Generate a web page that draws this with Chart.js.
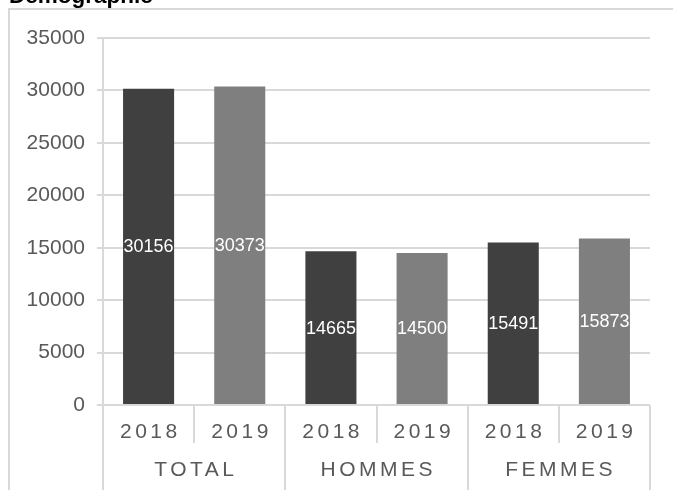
<!DOCTYPE html>
<html>
<head>
<meta charset="utf-8">
<script src="https://cdn.jsdelivr.net/npm/chart.js@4/dist/chart.umd.min.js"></script>
<style>
  html, body { margin: 0; padding: 0; background: #fff; overflow: hidden; }
  canvas { display: block; }
</style>
</head>
<body>
<canvas id="chart" width="673" height="490"></canvas>
<script>
const title = 'Démographie';
const groups = ['TOTAL', 'HOMMES', 'FEMMES'];
const years = ['2018', '2019'];
const values2018 = [30156, 14665, 15491];
const values2019 = [30373, 14500, 15873];
const yTicks = [0, 5000, 10000, 15000, 20000, 25000, 30000, 35000];

const colors = { '2018': '#404040', '2019': '#7f7f7f' };
const lineColor = '#d9d9d9';
const textColor = '#595959';
const fontFamily = '"Liberation Sans", Arial, sans-serif';

// one bar per (group, year) pair
const labels = [];
const values = [];
const barColors = [];
groups.forEach((g, i) => {
    labels.push(years[0]); values.push(values2018[i]); barColors.push(colors[years[0]]);
    labels.push(years[1]); values.push(values2019[i]); barColors.push(colors[years[1]]);
});

function spacedText(ctx, text, x, y, spacing) {
    ctx.letterSpacing = spacing + 'px';
    ctx.fillText(text, x + spacing / 2, y);
    ctx.letterSpacing = '0px';
}

const decorations = {
    id: 'decorations',
    beforeDraw(chart) {
        const ctx = chart.ctx;
        ctx.save();
        // outer frame
        ctx.strokeStyle = lineColor;
        ctx.lineWidth = 2;
        ctx.strokeRect(9, 9, 700, 520);
        // title, cut at top
        ctx.fillStyle = '#000';
        ctx.font = 'bold 22.5px ' + fontFamily;
        ctx.textBaseline = 'alphabetic';
        ctx.textAlign = 'left';
        ctx.fillText(title, 9, 3);
        ctx.restore();
    },
    afterDraw(chart) {
        const ctx = chart.ctx;
        const x = chart.scales.x;
        const area = chart.chartArea;
        const n = labels.length;
        const step = (x.right - x.left) / n;
        ctx.save();
        ctx.strokeStyle = lineColor;
        ctx.lineWidth = 2;
        for (let i = 0; i <= n; i++) {
            const px = Math.round(x.left + i * step);
            const bottom = i % 2 === 0 ? 490 : area.bottom + 38;
            ctx.beginPath();
            ctx.moveTo(px, area.bottom);
            ctx.lineTo(px, bottom);
            ctx.stroke();
        }
        ctx.fillStyle = textColor;
        ctx.font = '21px ' + fontFamily;
        ctx.textAlign = 'center';
        ctx.textBaseline = 'middle';
        labels.forEach((lab, i) => {
            spacedText(ctx, lab, x.getPixelForValue(i), area.bottom + 27, 3.5);
        });
        groups.forEach((g, i) => {
            const cx = (x.getPixelForValue(2 * i) + x.getPixelForValue(2 * i + 1)) / 2;
            spacedText(ctx, g, cx, area.bottom + 65, 3.5);
        });
        ctx.restore();
    },
    afterDatasetsDraw(chart) {
        const ctx = chart.ctx;
        const meta = chart.getDatasetMeta(0);
        ctx.save();
        ctx.fillStyle = '#ffffff';
        ctx.font = '18px ' + fontFamily;
        ctx.textAlign = 'center';
        ctx.textBaseline = 'middle';
        meta.data.forEach((bar, i) => {
            ctx.fillText(String(values[i]), bar.x, (bar.y + bar.base) / 2 + 1);
        });
        ctx.restore();
    }
};

new Chart(document.getElementById('chart').getContext('2d'), {
    type: 'bar',
    data: {
        labels: labels,
        datasets: [{
            data: values,
            backgroundColor: barColors,
            categoryPercentage: 1,
            barPercentage: 0.56
        }]
    },
    options: {
        responsive: false,
        animation: false,
        devicePixelRatio: 1,
        layout: { padding: { left: 0, top: 38, right: 23, bottom: 85 } },
        plugins: {
            legend: { display: false },
            tooltip: { enabled: false }
        },
        scales: {
            x: {
                display: false
            },
            y: {
                min: 0,
                max: 35000,
                afterFit(scale) { scale.width = 103; },
                afterBuildTicks(scale) { scale.ticks = yTicks.map(v => ({ value: v })); },
                ticks: {
                    color: textColor,
                    font: { family: fontFamily, size: 21 },
                    padding: 12,
                    callback: (v) => String(v)
                },
                grid: {
                    color: lineColor,
                    lineWidth: 2,
                    tickLength: 6
                },
                border: { color: lineColor, width: 2 }
            }
        }
    },
    plugins: [decorations]
});
</script>
</body>
</html>
